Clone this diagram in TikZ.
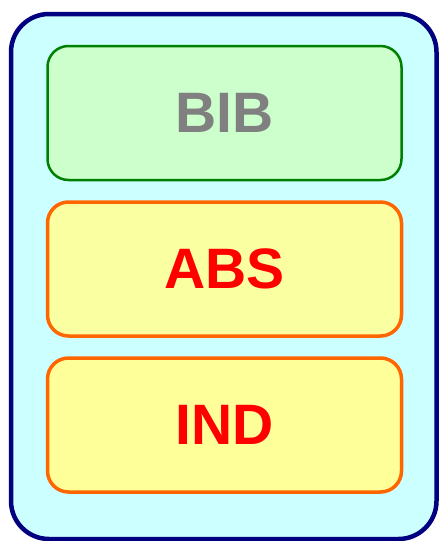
\documentclass[tikz,border=0pt]{standalone}
\usepackage{fontspec}
\setmainfont{Liberation Sans}
\definecolor{outerfill}{HTML}{CCFFFF}
\definecolor{outerdraw}{HTML}{000080}
\definecolor{bibfill}{HTML}{CCFFCC}
\definecolor{bibdraw}{HTML}{008000}
\definecolor{absfill}{HTML}{FAFFA2}
\definecolor{indfill}{HTML}{FFFF99}
\definecolor{orangedraw}{HTML}{FF6600}
\definecolor{bibtext}{HTML}{808080}
\definecolor{redtext}{HTML}{FF0000}
\tikzset{
  outerbox/.style={draw=outerdraw, fill=outerfill, line width=4.5pt, rounded corners=38pt},
  layerbox/.style={rounded corners=21pt, minimum width=354pt, minimum height=134pt, inner sep=0pt},
  biblayer/.style={layerbox, draw=bibdraw, fill=bibfill, line width=2.5pt, text=bibtext},
  orangelayer/.style={layerbox, draw=orangedraw, line width=3.5pt, text=redtext},
  lbl/.style={font=\fontsize{57}{60}\selectfont\bfseries}
}
\begin{document}
\begin{tikzpicture}[x=1pt,y=-1pt]
\useasboundingbox (0,0) rectangle (439,541);
\draw[outerbox] (11,14) rectangle (436.5,539);
\node[biblayer, lbl] (bib) at (224.5,113) {BIB};
\node[orangelayer, fill=absfill, lbl] (abs) at (224.5,269) {ABS};
\node[orangelayer, fill=indfill, lbl] (ind) at (224.5,425) {IND};
\end{tikzpicture}
\end{document}
